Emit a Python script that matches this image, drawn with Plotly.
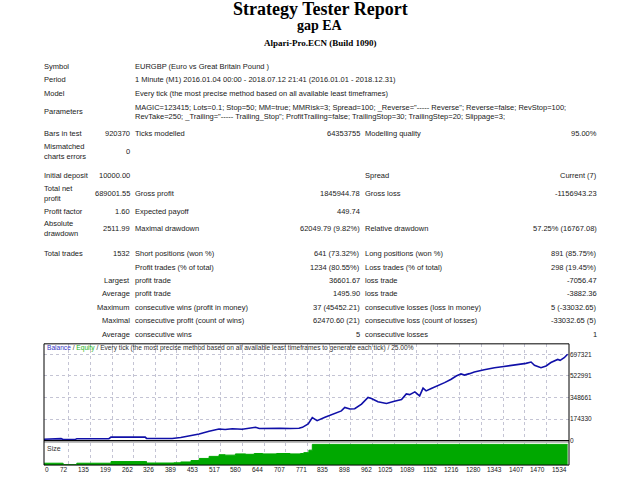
import plotly.graph_objects as go

W, H = 640, 480

# ---- report header / table text ----
report_title = "Strategy Tester Report"
ea_name = "gap EA"
server_build = "Alpari-Pro.ECN (Build 1090)"

info_labels = ["Symbol", "Period", "Model", "Parameters"]
info_values = [
    "EURGBP (Euro vs Great Britain Pound )",
    "1 Minute (M1) 2016.01.04 00:00 - 2018.07.12 21:41 (2016.01.01 - 2018.12.31)",
    "Every tick (the most precise method based on all available least timeframes)",
]
param_lines = [
    'MAGIC=123415; Lots=0.1; Stop=50; MM=true; MMRisk=3; Spread=100; _Reverse="----- Reverse"; Reverse=false; RevStop=100;',
    'RevTake=250; _Trailing="----- Trailing_Stop"; ProfitTrailing=false; TrailingStop=30; TrailingStep=20; Slippage=3;',
]

stat_rows = [
    ["Bars in test", "920370", "Ticks modelled", "64353755", "Modelling quality", "95.00%"],
    ["Mismatched<br>charts errors", "0", "", "", "", ""],
    ["Initial deposit", "10000.00", "", "", "Spread", "Current (7)"],
    ["Total net<br>profit", "689001.55", "Gross profit", "1845944.78", "Gross loss", "-1156943.23"],
    ["Profit factor", "1.60", "Expected payoff", "449.74", "", ""],
    ["Absolute<br>drawdown", "2511.99", "Maximal drawdown", "62049.79 (9.82%)", "Relative drawdown", "57.25% (16767.08)"],
    ["Total trades", "1532", "Short positions (won %)", "641 (73.32%)", "Long positions (won %)", "891 (85.75%)"],
    ["", "", "Profit trades (% of total)", "1234 (80.55%)", "Loss trades (% of total)", "298 (19.45%)"],
    ["", "Largest", "profit trade", "36601.67", "loss trade", "-7056.47"],
    ["", "Average", "profit trade", "1495.90", "loss trade", "-3882.36"],
    ["", "Maximum", "consecutive wins (profit in money)", "37 (45452.21)", "consecutive losses (loss in money)", "5 (-33032.65)"],
    ["", "Maximal", "consecutive profit (count of wins)", "62470.60 (21)", "consecutive loss (count of losses)", "-33032.65 (5)"],
    ["", "Average", "consecutive wins", "5", "consecutive losses", "1"],
]

# ---- chart data ----
trade_no = [0, 25, 50, 56, 92, 96, 150, 190, 196, 240, 296, 300, 340, 375, 400,
            430, 454, 483, 512, 530, 551, 580, 609, 619, 630, 660, 690, 720, 746,
            756, 773, 785, 799, 822, 851, 870, 880, 895, 909, 929, 948, 958, 977,
            1002, 1025, 1046, 1060, 1070, 1085, 1099, 1109, 1118, 1133, 1150, 1172,
            1190, 1206, 1220, 1230, 1245, 1259, 1288, 1300, 1318, 1340, 1357, 1376,
            1396, 1410, 1425, 1435, 1454, 1469, 1483, 1495, 1503, 1510, 1522, 1532]
balance = [10000, 14000, 15000, 8000, 8000, 15000, 14000, 15000, 28000, 30000,
           28000, 17000, 16000, 17000, 25000, 38000, 53000, 75000, 93000, 89000,
           96000, 92000, 100000, 107000, 97000, 101000, 99000, 97000, 99000,
           107000, 134000, 186000, 161000, 188000, 220000, 240000, 268000, 255000,
           258000, 295000, 349000, 341000, 314000, 300000, 318000, 332000, 378000,
           372000, 394000, 362000, 425000, 402000, 421000, 440000, 469000, 495000,
           523000, 540000, 530000, 542000, 556000, 574000, 578000, 590000, 598000,
           604000, 609000, 617000, 625000, 636000, 609000, 590000, 604000, 632000,
           645000, 657000, 650000, 671000, 699000]

size_trade = [0, 54, 56, 94, 96, 194, 196, 298, 300, 380, 400, 430, 454, 483, 512,
              530, 560, 590, 615, 640, 680, 720, 750, 760, 775, 785, 1532]
size_lots = [4.5, 4.5, 1.0, 1.0, 4.5, 4.5, 8.5, 8.5, 5.0, 5.5, 7.5, 11, 16, 21, 25,
             24, 27, 26, 28, 27, 28, 27, 28, 30, 36, 50, 50]

x_ticks = [0, 72, 135, 199, 262, 326, 389, 453, 517, 580, 644, 707, 771, 835,
           898, 962, 1025, 1089, 1152, 1216, 1280, 1343, 1407, 1470, 1534]
y_ticks = [0, 174330, 348661, 522991, 697321]


def fx(x):
    return x / W


def fy(y):
    return 1 - y / H


SANS = "Liberation Sans"
SERIF = "Liberation Serif"
TXT = "#1a1a1a"


def note(text, x, y, anchor="left", size=7.5, family=SANS, color=TXT):
    return dict(text=text, x=fx(x), y=fy(y), xref="paper", yref="paper",
                xanchor=anchor, yanchor="middle", align=anchor, showarrow=False,
                borderpad=0, borderwidth=0,
                font=dict(family=family, size=size, color=color))


notes = [
    note("<b>" + report_title + "</b>", 320, 9.5, "center", 18, SERIF, "#000"),
    note("<b>" + ea_name + "</b>", 320, 26, "center", 14, SERIF, "#000"),
    note("<b>" + server_build + "</b>", 320, 43, "center", 9, SERIF, "#000"),
]

info_y = [66.7, 80, 94, 111.7]
for lab, yy in zip(info_labels, info_y):
    notes.append(note(lab, 44, yy))
for val, yy in zip(info_values, info_y):
    notes.append(note(val, 134.5, yy))
for line, yy in zip(param_lines, [108.3, 116.9]):
    notes.append(note(line, 134.5, yy))

stat_y = [134.3, 152.8, 176.7, 194.6, 212.7, 230.3, 255, 269, 282.3, 295.7,
          309.3, 322.7, 336.7]
col_x = [44, 130, 134.5, 359.5, 364.5, 597]
col_anchor = ["left", "right", "left", "right", "left", "right"]
for row, yy in zip(stat_rows, stat_y):
    for cell, cx, ca in zip(row, col_x, col_anchor):
        if cell:
            notes.append(note(cell, cx, yy, ca))

header = ("<span style='color:#3434c4'>Balance</span> / "
          "<span style='color:#22b422'>Equity</span> / Every tick (the most precise "
          "method based on all available least timeframes to generate each tick) / 25.00%")
notes.append(note(header, 46.5, 350.5, "left", 6.6, SANS, "#303030"))
notes.append(note("Size", 47, 451.5, "left", 7, SANS, "#303030"))

# MT4 puts the trade-number labels just left of their grid line
for i, t in enumerate(x_ticks):
    notes.append(dict(text=str(t), x=t, y=fy(472.5), xref="x2", yref="paper",
                      xanchor="left" if i == 0 else "right", yanchor="middle",
                      xshift=1 if i == 0 else -1, showarrow=False,
                      borderpad=0, borderwidth=0,
                      font=dict(family=SANS, size=6.5, color="#202020")))

fig = go.Figure()
fig.add_trace(go.Scatter(x=size_trade, y=size_lots, xaxis="x2", yaxis="y2",
                         mode="lines", line_shape="hv", fill="tozeroy",
                         fillcolor="#00a800", line=dict(color="#00a800", width=1),
                         hoverinfo="skip"))
fig.add_trace(go.Scatter(x=trade_no, y=balance, mode="lines",
                         line=dict(color="#1010a8", width=1.6)))

grid = dict(showgrid=True, gridcolor="#c4c4d4", griddash="dot", gridwidth=1,
            zeroline=False, showline=False)
xdom = [fx(44), fx(569)]
xrange_ = [0, 1536]
fig.update_layout(
    width=W, height=H, margin=dict(l=0, r=0, t=0, b=0),
    paper_bgcolor="white", plot_bgcolor="white", showlegend=False,
    xaxis=dict(domain=xdom, range=xrange_, anchor="y", tickvals=x_ticks,
               showticklabels=False, ticks="", **grid),
    yaxis=dict(domain=[fy(443.3), fy(346)], range=[0, 783400], anchor="x",
               side="right", tickvals=y_ticks, ticktext=[str(v) for v in y_ticks],
               ticks="", tickfont=dict(family=SANS, size=6.5, color="#202020"), **grid),
    xaxis2=dict(domain=xdom, range=xrange_, anchor="y2", tickvals=x_ticks,
                showticklabels=False, ticks="", **grid),
    yaxis2=dict(domain=[fy(468), fy(445.5)], range=[0, 54], anchor="x2",
                showticklabels=False, showgrid=False, zeroline=False),
    annotations=notes,
    shapes=[
        dict(type="rect", xref="paper", yref="paper", x0=fx(44), x1=fx(569),
             y0=fy(443.8), y1=fy(445.5), fillcolor="#a8a8a8", line=dict(width=0)),
        dict(type="line", xref="paper", yref="paper", x0=fx(44), x1=fx(569),
             y0=fy(443.3), y1=fy(443.3), line=dict(color="#000", width=1)),
        dict(type="rect", xref="paper", yref="paper", x0=fx(44), x1=fx(569),
             y0=fy(468), y1=fy(346), line=dict(color="#000", width=1)),
    ],
)

# page body has a default 8px margin; remove it so the figure fills the window
fig.write_html("out.html", config={"displayModeBar": False},
               post_script="document.body.style.margin='0';")
